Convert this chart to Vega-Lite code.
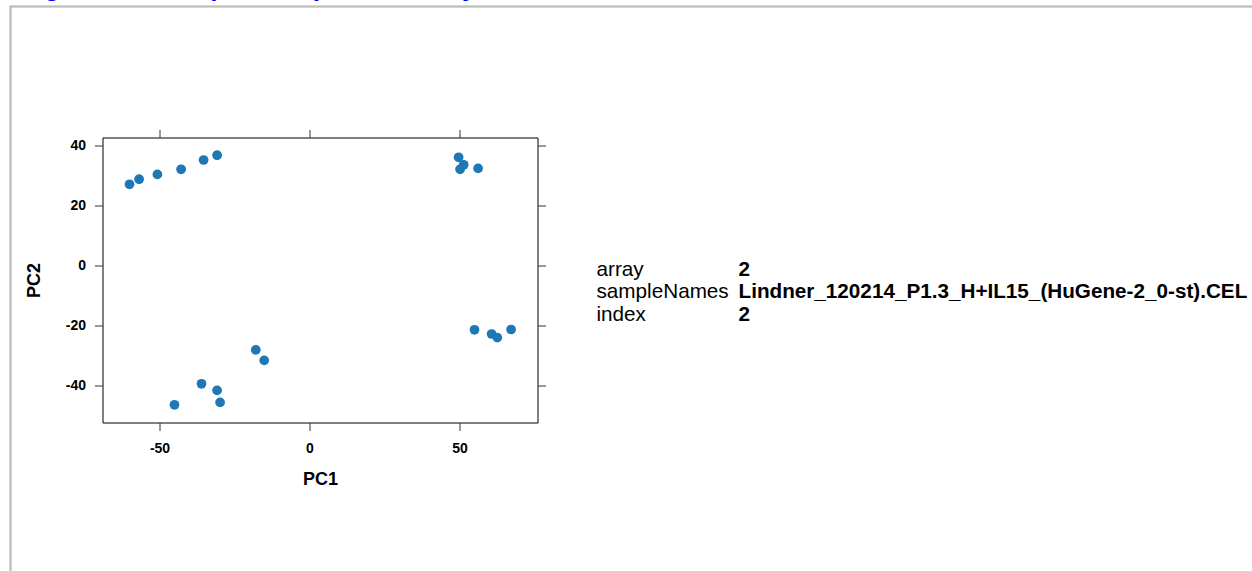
{
  "$schema": "https://vega.github.io/schema/vega-lite/v6.json",
  "autosize": {"type": "none"},
  "padding": {"left": 9.5, "top": 5.5, "right": 1242.5, "bottom": 565.5},
  "background": "white",
  "title": {
    "text": "Figure 2: Principal Component Analysis",
    "anchor": "start",
    "frame": "group",
    "orient": "top",
    "baseline": "alphabetic",
    "offset": -17,
    "dx": 11.5,
    "font": "Liberation Sans",
    "fontSize": 26,
    "fontWeight": "bold",
    "color": "#0000ff"
  },
  "config": {
    "font": "Liberation Sans",
    "view": {"fill": null}
  },
  "spacing": 0,
  "bounds": "flush",
  "hconcat": [
    {
      "width": 1,
      "height": 600,
      "data": {"values": []},
      "mark": "rule",
      "encoding": {},
      "view": {"stroke": "#aaaaaa", "strokeWidth": 1}
    },
    {
      "spacing": 131,
      "bounds": "flush",
      "vconcat": [
        {
          "width": 1300,
          "height": 1,
          "data": {"values": []},
          "mark": "rule",
          "encoding": {},
          "view": {"stroke": "#aaaaaa", "strokeWidth": 1}
        },
        {
          "spacing": 59,
          "bounds": "flush",
          "hconcat": [
            {
              "width": 33,
              "height": 1,
              "data": {"values": []},
              "mark": "rule",
              "encoding": {},
              "view": {"stroke": null}
            },
            {
              "width": 435,
              "height": 285,
              "view": {"stroke": "black", "strokeWidth": 1},
              "data": {
                "values": [
                  {"PC1": -60.0, "PC2": 27.1},
                  {"PC1": -56.8, "PC2": 28.8},
                  {"PC1": -50.7, "PC2": 30.4},
                  {"PC1": -42.8, "PC2": 32.1},
                  {"PC1": -35.3, "PC2": 35.2},
                  {"PC1": -30.8, "PC2": 36.8},
                  {"PC1": 49.7, "PC2": 36.1},
                  {"PC1": 51.4, "PC2": 33.6},
                  {"PC1": 50.2, "PC2": 32.1},
                  {"PC1": 56.2, "PC2": 32.4},
                  {"PC1": 55.0, "PC2": -21.4},
                  {"PC1": 60.7, "PC2": -22.8},
                  {"PC1": 62.6, "PC2": -24.0},
                  {"PC1": 67.2, "PC2": -21.3},
                  {"PC1": -17.9, "PC2": -28.1},
                  {"PC1": -15.1, "PC2": -31.6},
                  {"PC1": -36.0, "PC2": -39.4},
                  {"PC1": -30.8, "PC2": -41.6},
                  {"PC1": -29.8, "PC2": -45.6},
                  {"PC1": -45.0, "PC2": -46.4}
                ]
              },
              "layer": [
                {
                  "mark": {"type": "point", "filled": true, "size": 95, "color": "#1f77b4", "opacity": 1},
                  "encoding": {
                    "x": {
                      "field": "PC1", "type": "quantitative",
                      "scale": {"domain": [-69, 76], "nice": false, "zero": false},
                      "axis": {
                        "orient": "bottom", "values": [-50, 0, 50], "domain": false, "grid": false,
                        "tickSize": 8, "tickColor": "#333333", "tickWidth": 1,
                        "labelFont": "Liberation Sans", "labelFontSize": 14, "labelFontWeight": "bold",
                        "labelColor": "black", "labelPadding": 11, "labelExpr": "'' + datum.value",
                        "labelOverlap": false, "labelFlush": false,
                        "title": "PC1", "titleFont": "Liberation Sans", "titleFontSize": 18,
                        "titleFontWeight": "bold", "titleColor": "black", "titlePadding": 15
                      }
                    },
                    "y": {
                      "field": "PC2", "type": "quantitative",
                      "scale": {"domain": [-52.3, 42.7], "nice": false, "zero": false},
                      "axis": {
                        "orient": "left", "values": [-40, -20, 0, 20, 40], "domain": false, "grid": false,
                        "tickSize": 8, "tickColor": "#333333", "tickWidth": 1,
                        "labelFont": "Liberation Sans", "labelFontSize": 14, "labelFontWeight": "bold",
                        "labelColor": "black", "labelPadding": 9, "labelExpr": "'' + datum.value",
                        "labelOverlap": false, "labelFlush": false,
                        "title": "PC2", "titleFont": "Liberation Sans", "titleFontSize": 18,
                        "titleFontWeight": "bold", "titleColor": "black", "titlePadding": 22
                      }
                    }
                  }
                },
                {
                  "mark": {"type": "point", "opacity": 0},
                  "encoding": {
                    "x": {
                      "field": "PC1", "type": "quantitative",
                      "axis": {
                        "orient": "top", "values": [-50, 0, 50], "domain": false, "grid": false,
                        "tickSize": 8, "tickColor": "#333333", "tickWidth": 1,
                        "labels": false, "title": null
                      }
                    },
                    "y": {
                      "field": "PC2", "type": "quantitative",
                      "axis": {
                        "orient": "right", "values": [-40, -20, 0, 20, 40], "domain": false, "grid": false,
                        "tickSize": 8, "tickColor": "#333333", "tickWidth": 1,
                        "labels": false, "title": null
                      }
                    }
                  }
                }
              ],
              "resolve": {"axis": {"x": "independent", "y": "independent"}}
            },
            {
              "width": 142,
              "height": 285,
              "view": {"stroke": null},
              "data": {
                "values": [
                  {"row": 1, "key": "array", "val": "2"},
                  {"row": 2, "key": "sampleNames", "val": "Lindner_120214_P1.3_H+IL15_(HuGene-2_0-st).CEL"},
                  {"row": 3, "key": "index", "val": "2"}
                ]
              },
              "transform": [{"fold": ["key", "val"], "as": ["col", "txt"]}],
              "encoding": {
                "x": {"field": "col", "type": "nominal", "scale": {"type": "point", "padding": 0, "domain": ["key", "val"]}, "axis": null},
                "y": {"field": "row", "type": "quantitative", "scale": {"domain": [-4.889, 7.778], "reverse": true, "nice": false, "zero": false}, "axis": null},
                "text": {"field": "txt"}
              },
              "layer": [
                {
                  "transform": [{"filter": "datum.col === 'key'"}],
                  "mark": {"type": "text", "align": "left", "baseline": "middle", "fontSize": 20.7, "font": "Liberation Sans", "fontWeight": "normal", "color": "black"}
                },
                {
                  "transform": [{"filter": "datum.col === 'val'"}],
                  "mark": {"type": "text", "align": "left", "baseline": "middle", "fontSize": 20.7, "font": "Liberation Sans", "fontWeight": "bold", "color": "black"}
                }
              ]
            }
          ]
        }
      ]
    }
  ]
}
